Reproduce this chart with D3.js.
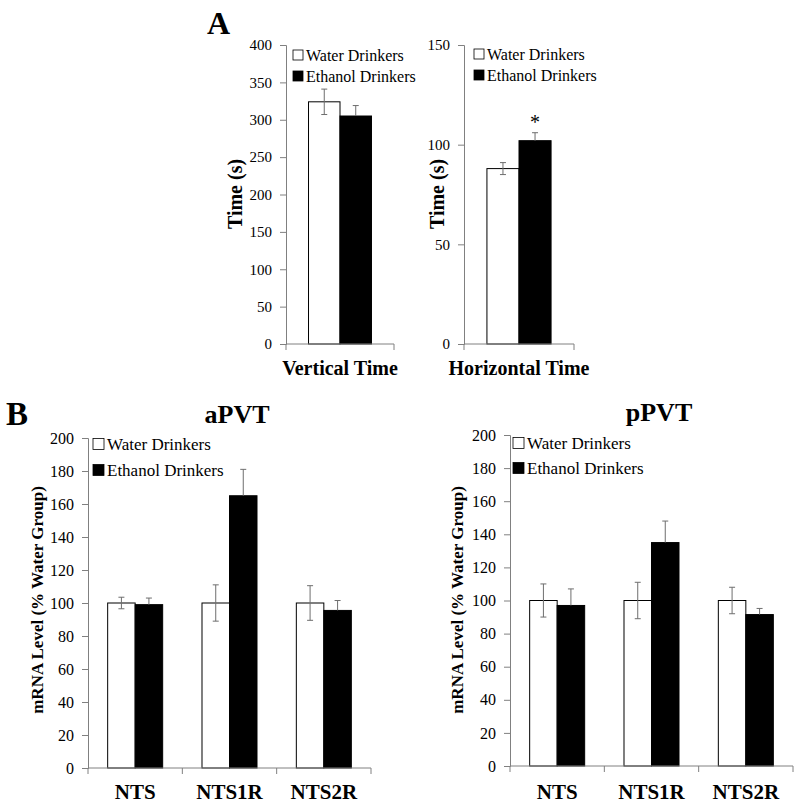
<!DOCTYPE html>
<html>
<head>
<meta charset="utf-8">
<script src="https://cdn.jsdelivr.net/npm/d3@7"></script>
<style>
  body { margin: 0; background: #fff; }
  text { font-family: "Liberation Serif", "Times New Roman", serif; fill: #000; }
</style>
</head>
<body>
<svg id="fig" width="800" height="808"></svg>
<script>
// series names
const series = ["Water Drinkers", "Ethanol Drinkers"];

// panel A
const vertCats = ["Vertical Time"];
const vertWater = [324], vertWaterErr = [17];
const vertEthanol = [305], vertEthanolErr = [14];
const vertTicks = [0, 50, 100, 150, 200, 250, 300, 350, 400];

const horCats = ["Horizontal Time"];
const horWater = [88], horWaterErr = [3];
const horEthanol = [102], horEthanolErr = [4];
const horTicks = [0, 50, 100, 150];
const horStars = ["", "*"];

// panel B
const genes = ["NTS", "NTS1R", "NTS2R"];
const aWater = [100, 100, 100], aWaterErr = [3.5, 11, 10.5];
const aEthanol = [99, 165, 95.5], aEthanolErr = [4, 16, 6];
const pWater = [100, 100, 100], pWaterErr = [10, 11, 8];
const pEthanol = [97, 135, 91.5], pEthanolErr = [10, 13, 3.7];
const mrnaTicks = [0, 20, 40, 60, 80, 100, 120, 140, 160, 180, 200];

const svg = d3.select("#fig");
const axisGray = "#808080";

function panel(o) {
    const g = svg.append("g");
    const x = d3.scaleBand().domain(o.cats).range([o.left, o.right]);
    const x1 = d3.scaleBand().domain(series).range([0, x.bandwidth()])
        .paddingInner(0).paddingOuter(0.715);
    const y = d3.scaleLinear().domain([0, o.max]).range([o.bottom, o.top]);

    const rows = [];
    o.cats.forEach((c, i) => {
        rows.push({cat: c, s: series[0], v: o.water[i], e: o.waterErr[i], star: ""});
        rows.push({cat: c, s: series[1], v: o.ethanol[i], e: o.ethanolErr[i], star: o.stars ? o.stars[i * 2 + 1] : ""});
    });

    // bars
    g.selectAll(".bar").data(rows).enter().append("rect")
        .attr("x", d => x(d.cat) + x1(d.s))
        .attr("y", d => y(d.v))
        .attr("width", x1.bandwidth())
        .attr("height", d => y(0) - y(d.v))
        .attr("fill", d => d.s === series[0] ? "#fff" : "#000")
        .attr("stroke", "#000")
        .attr("stroke-width", 1);

    // error bars
    const cx = d => x(d.cat) + x1(d.s) + x1.bandwidth() / 2;
    const lo = d => d.s === series[0] ? y(d.v - d.e) : y(d.v);
    g.selectAll(".err").data(rows).enter().append("line")
        .attr("x1", cx).attr("x2", cx)
        .attr("y1", lo).attr("y2", d => y(d.v + d.e))
        .attr("stroke", "#6e6e6e").attr("stroke-width", 1);
    g.selectAll(".capT").data(rows).enter().append("line")
        .attr("x1", d => cx(d) - 3).attr("x2", d => cx(d) + 3)
        .attr("y1", d => y(d.v + d.e)).attr("y2", d => y(d.v + d.e))
        .attr("stroke", "#6e6e6e").attr("stroke-width", 1);
    g.selectAll(".capB").data(rows.filter(d => d.s === series[0])).enter().append("line")
        .attr("x1", d => cx(d) - 3).attr("x2", d => cx(d) + 3)
        .attr("y1", d => y(d.v - d.e)).attr("y2", d => y(d.v - d.e))
        .attr("stroke", "#6e6e6e").attr("stroke-width", 1);

    g.selectAll(".star").data(rows.filter(d => d.star)).enter().append("text")
        .attr("x", cx).attr("y", d => y(d.v + d.e) - 4)
        .attr("text-anchor", "middle")
        .attr("font-size", 20)
        .text(d => d.star);

    // y axis
    const ya = g.append("g")
        .attr("transform", `translate(${o.left},0)`)
        .call(d3.axisLeft(y).tickValues(o.ticks).tickSizeOuter(0).tickSize(6).tickPadding(8));
    ya.select(".domain").attr("stroke", axisGray);
    ya.selectAll(".tick line").attr("stroke", axisGray);
    ya.selectAll(".tick text").attr("font-size", o.tickFont)
        .attr("font-family", "Liberation Serif").attr("fill", "#000");

    // x axis
    g.append("line")
        .attr("x1", o.left).attr("x2", o.right)
        .attr("y1", y(0)).attr("y2", y(0))
        .attr("stroke", axisGray);
    const bounds = o.cats.map(c => x(c)).concat([x.range()[1]]);
    g.selectAll(".xt").data(bounds).enter().append("line")
        .attr("x1", d => d).attr("x2", d => d)
        .attr("y1", y(0)).attr("y2", y(0) + 6)
        .attr("stroke", axisGray);
    g.selectAll(".xl").data(o.cats).enter().append("text")
        .attr("x", d => x(d) + x.bandwidth() / 2)
        .attr("y", o.catY)
        .attr("text-anchor", "middle")
        .attr("font-weight", "bold")
        .attr("font-size", o.catFont)
        .text(d => d);

    // y title
    g.append("text")
        .attr("transform", `translate(${o.yTitleX},${o.yTitleY}) rotate(-90)`)
        .attr("text-anchor", "middle")
        .attr("dominant-baseline", "central")
        .attr("font-weight", "bold")
        .attr("font-size", o.yTitleFont)
        .text(o.yTitle);

    // title
    if (o.title) {
        g.append("text")
            .attr("x", o.titleX).attr("y", o.titleY)
            .attr("text-anchor", "middle")
            .attr("font-weight", "bold")
            .attr("font-size", 26)
            .text(o.title);
    }

    // legend
    const lg = g.selectAll(".lg").data(series).enter().append("g")
        .attr("transform", (d, i) => `translate(${o.legX},${o.legY + i * o.legGap})`);
    lg.append("rect")
        .attr("x", 0).attr("y", -o.legSq / 2)
        .attr("width", o.legSq).attr("height", o.legSq)
        .attr("fill", (d, i) => i === 0 ? "#fff" : "#000")
        .attr("stroke", "#000").attr("stroke-width", 0.8);
    lg.append("text")
        .attr("x", o.legSq + 3).attr("y", 0)
        .attr("dominant-baseline", "central")
        .attr("font-size", o.legFont)
        .text(d => d);
}

panel({cats: vertCats, water: vertWater, waterErr: vertWaterErr, ethanol: vertEthanol, ethanolErr: vertEthanolErr,
    max: 400, ticks: vertTicks, left: 286, right: 394, top: 45, bottom: 344,
    tickFont: 15, catFont: 20, catY: 375, yTitle: "Time (s)", yTitleX: 235, yTitleY: 194, yTitleFont: 20,
    legX: 293, legY: 55, legGap: 21, legSq: 10, legFont: 16});

panel({cats: horCats, water: horWater, waterErr: horWaterErr, ethanol: horEthanol, ethanolErr: horEthanolErr,
    stars: horStars,
    max: 150, ticks: horTicks, left: 464, right: 574, top: 45, bottom: 344,
    tickFont: 15, catFont: 20, catY: 375, yTitle: "Time (s)", yTitleX: 437, yTitleY: 194, yTitleFont: 20,
    legX: 474, legY: 54, legGap: 21, legSq: 10, legFont: 16});

panel({cats: genes, water: aWater, waterErr: aWaterErr, ethanol: aEthanol, ethanolErr: aEthanolErr,
    max: 200, ticks: mrnaTicks, left: 88, right: 371, top: 438, bottom: 768,
    tickFont: 16, catFont: 21, catY: 799, yTitle: "mRNA Level (% Water Group)", yTitleX: 37, yTitleY: 600, yTitleFont: 17,
    title: "aPVT", titleX: 237, titleY: 423,
    legX: 93, legY: 444, legGap: 26, legSq: 11, legFont: 17});

panel({cats: genes, water: pWater, waterErr: pWaterErr, ethanol: pEthanol, ethanolErr: pEthanolErr,
    max: 200, ticks: mrnaTicks, left: 510, right: 793, top: 435, bottom: 766,
    tickFont: 16, catFont: 21, catY: 799, yTitle: "mRNA Level (% Water Group)", yTitleX: 457, yTitleY: 600, yTitleFont: 17,
    title: "pPVT", titleX: 659, titleY: 421,
    legX: 513, legY: 443, legGap: 25, legSq: 11, legFont: 17});

// panel letters
svg.append("text").attr("x", 207).attr("y", 34)
    .attr("font-weight", "bold").attr("font-size", 32).text("A");
svg.append("text").attr("x", 6).attr("y", 425)
    .attr("font-weight", "bold").attr("font-size", 33).text("B");
</script>
</body>
</html>
